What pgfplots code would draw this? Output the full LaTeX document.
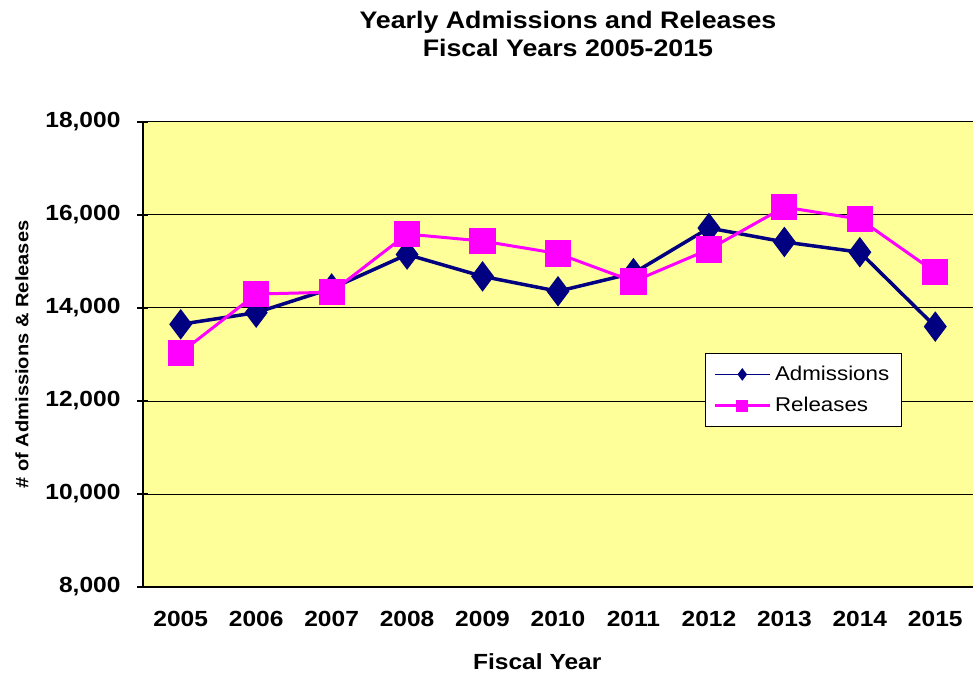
\documentclass[border=0pt]{standalone}
\usepackage{fontspec}
\setmainfont{Liberation Sans}[FakeStretch=1.12]
\usepackage{pgfplots}
\pgfplotsset{compat=1.18}
\definecolor{plotbg}{HTML}{FFFF99}
\definecolor{admcol}{HTML}{000080}
\definecolor{relcol}{HTML}{FF00FF}

\begin{document}
\begin{tikzpicture}
\begin{axis}[
    scale only axis,
    width=415bp, height=232.5bp,
    xmin=-0.5, xmax=10.5,
    ymin=8000, ymax=18000,
    xtick={0,...,10},
    xticklabels={2005,2006,2007,2008,2009,2010,2011,2012,2013,2014,2015},
    minor xtick={-0.5,0.5,...,10.5},
    ytick={8000,10000,...,18000},
    axis x line*=bottom, axis y line*=left,
    xtick align=outside, ytick align=center,
    major tick length=5.5bp, minor tick length=4.5bp,
    xtick style={draw=none},
    minor x tick style={black, line width=0.8bp},
    ytick style={black, line width=0.8bp},
    axis line style={black, line width=0.8bp},
    ymajorgrids,
    major grid style={black, line width=0.5bp},
    axis background/.style={fill=plotbg},
    scaled y ticks=false,
    /pgf/number format/1000 sep={,},
    /pgf/number format/assume math mode=true,
    tick label style={font=\fontsize{11}{13}\selectfont\bfseries},
    xticklabel style={yshift=-3bp},
    yticklabel style={xshift=-5bp},
    clip=false,
    legend style={at={(rel axis cs:0.677,0.503)}, anchor=north west,
        font=\fontsize{10}{11}\selectfont, draw=black, line width=0.6bp,
        fill=white, row sep=3bp, inner xsep=4bp, inner ysep=4bp},
    legend cell align=left,
    legend image code/.code={
        \draw[#1] (0bp,0bp) -- (27.5bp,0bp);
        \draw[#1] plot coordinates {(13.75bp,0bp)};
    },
]
\coordinate (sw) at (rel axis cs:0,0);
\addlegendimage{admcol, line width=0.7bp, mark=diamond*, mark size=2.6bp}
\addlegendentry{Admissions}
\addlegendimage{relcol, line width=1.3bp, mark=square*, mark size=2.3bp}
\addlegendentry{Releases}

\addplot[forget plot, admcol, line width=1.75bp, mark=diamond*, mark size=6.2bp]
coordinates {
(0,13650) (1,13900) (2,14420) (3,15150) (4,14680) (5,14360)
(6,14750) (7,15720) (8,15420) (9,15200) (10,13600)
};
\addplot[forget plot, relcol, line width=1.5bp, mark=square*, mark size=5.8bp]
coordinates {
(0,13040) (1,14300) (2,14340) (3,15590) (4,15440) (5,15170)
(6,14570) (7,15260) (8,16170) (9,15910) (10,14770)
};

\node[font=\fontsize{12}{14}\selectfont\bfseries, align=center]
    at ([yshift=44bp]rel axis cs:0.512,1)
    {Yearly Admissions and Releases\\Fiscal Years 2005-2015};
\node[rotate=90, font=\fontsize{9}{11}\selectfont\bfseries]
    at ([xshift=-60.5bp]rel axis cs:0,0.5) {\# of Admissions \& Releases};
\node[font=\fontsize{11}{13}\selectfont\bfseries]
    at ([yshift=-37.5bp]rel axis cs:0.475,0) {Fiscal Year};
\end{axis}
\pgfresetboundingbox
\useasboundingbox ([shift={(-71.5bp,-46bp)}]sw) rectangle ([shift={(415bp,293.5bp)}]sw);
\end{tikzpicture}
\end{document}
